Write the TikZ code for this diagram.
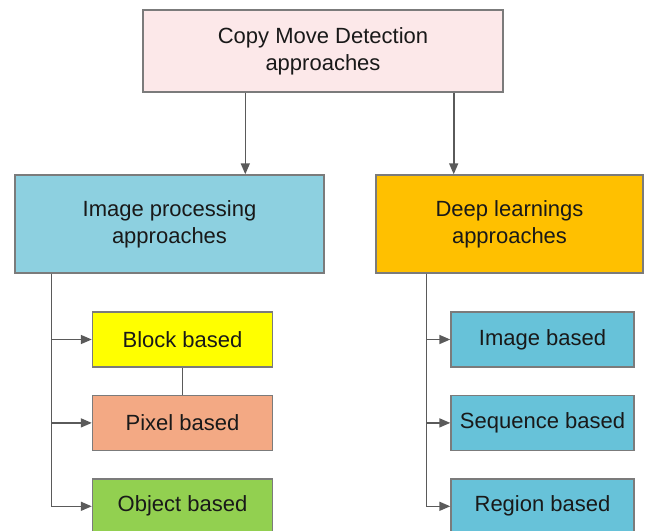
\documentclass[tikz,border=0pt]{standalone}
\usepackage{fontspec}
\setmainfont{Liberation Sans}
\usetikzlibrary{arrows.meta,positioning,calc}

\definecolor{cmdpink}{HTML}{FCE8E9}
\definecolor{procblue}{HTML}{8DD0E0}
\definecolor{deeporange}{HTML}{FFC000}
\definecolor{blockyellow}{HTML}{FFFF00}
\definecolor{pixelsalmon}{HTML}{F3A984}
\definecolor{objectgreen}{HTML}{92D050}
\definecolor{dlblue}{HTML}{67C2D9}
\definecolor{edgegray}{HTML}{5A5A5A}

\begin{document}
\begin{tikzpicture}[x=1pt, y=-1pt, >={Triangle[length=11pt,width=9pt]}, line width=1.6pt, node distance=27pt]
	\tikzstyle{box}=[draw=edgegray!80, line width=1.4pt, align=center, inner sep=0pt, text=black!90, font=\fontsize{22}{27}\selectfont]
	\tikzstyle{leaf}=[box, minimum height=55pt]
	\tikzstyle{link}=[draw=edgegray]
	\useasboundingbox (0,0) rectangle (647,530);

	% top and the two families
	\node[box, fill=cmdpink, minimum width=360pt, minimum height=82pt] (cmd) at (323,51) {Copy Move Detection\\approaches};
	\node[box, fill=procblue, minimum width=309pt, minimum height=98pt] (imgproc) at (169.5,224) {Image processing\\approaches};
	\node[box, fill=deeporange, minimum width=267pt, minimum height=98pt] (deep) at (509.5,224) {Deep learnings\\approaches};

	% image processing leaves
	\node[leaf, fill=blockyellow, minimum width=180pt] (block) at (182.5,339.5) {Block based};
	\node[leaf, fill=pixelsalmon, minimum width=180pt] (pixel) [below=of block] {Pixel based};
	\node[leaf, fill=objectgreen, minimum width=180pt] (object) [below=of pixel] {Object based};

	% deep learning leaves
	\node[leaf, fill=dlblue, minimum width=183pt] (image) at (542.5,339.5) {Image based};
	\node[leaf, fill=dlblue, minimum width=183pt] (sequence) [below=of image] {Sequence based};
	\node[leaf, fill=dlblue, minimum width=183pt] (region) [below=of sequence] {Region based};

	\draw[link, ->] ([xshift=103pt]cmd.south west) -- ([xshift=103pt]cmd.south west |- imgproc.north);
	\draw[link, ->] ([xshift=-50pt]cmd.south east) -- ([xshift=-50pt]cmd.south east |- deep.north);

	\coordinate (ltrunk) at ([xshift=37pt]imgproc.south west);
	\coordinate (rtrunk) at ([xshift=51pt]deep.south west);
	\draw[link, ->] (ltrunk) |- (block.west);
	\draw[link, ->] (ltrunk) |- (pixel.west);
	\draw[link, ->] (ltrunk) |- (object.west);
	\draw[link] (block.south) -- (pixel.north);

	\draw[link, ->] (rtrunk) |- (image.west);
	\draw[link, ->] (rtrunk) |- (sequence.west);
	\draw[link, ->] (rtrunk) |- (region.west);
\end{tikzpicture}
\end{document}
